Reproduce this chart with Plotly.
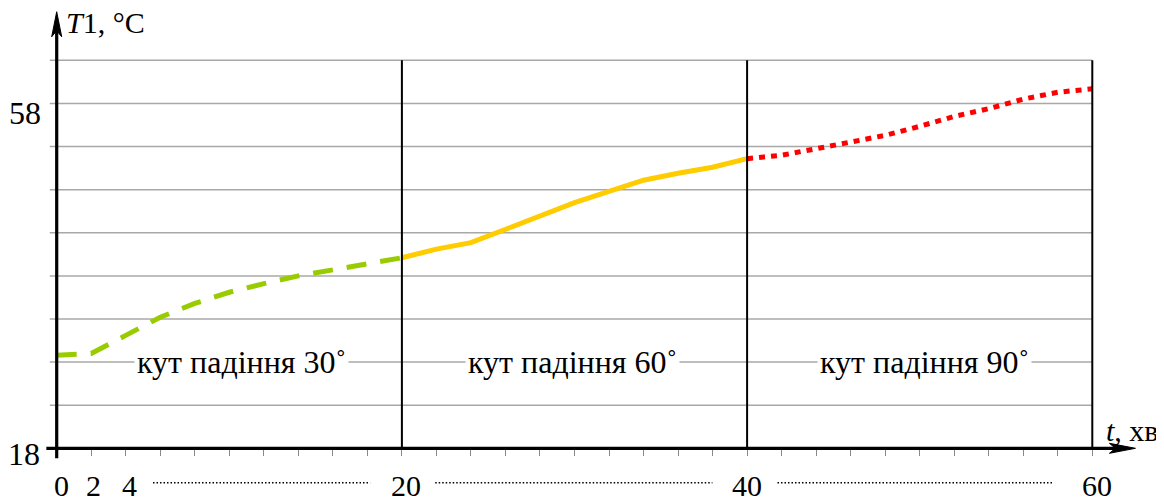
import plotly.graph_objects as go

# ---- data ----
t_30 = [0, 2, 4, 6, 8, 10, 12, 14, 16, 18, 20]
T_30 = [28.8, 29.0, 31.1, 33.2, 34.8, 36.1, 37.1, 38.0, 38.7, 39.4, 40.1]
t_60 = [20, 22, 24, 26, 28, 30, 32, 34, 36, 38, 40]
T_60 = [40.1, 41.1, 41.85, 43.4, 45.05, 46.5, 47.8, 49.1, 49.9, 50.6, 51.6]
t_90 = [40, 42, 44, 46, 48, 50, 52, 54, 56, 58, 60]
T_90 = [51.6, 52.0, 52.75, 53.55, 54.3, 55.35, 56.5, 57.4, 58.5, 59.3, 59.7]

grid_vals = [23, 28, 33, 38, 43, 48, 53, 58, 63]
x_label_vals = [0, 2, 4, 20, 40, 60]
x_minor_ticks = list(range(0, 61, 2))
section_lines = [20, 40, 60]
section_texts = ["кут падіння 30˚", "кут падіння 60˚", "кут падіння 90˚"]

FONT = "Liberation Serif, Times New Roman, serif"
FS = 32
FS_TICK = 30
FS_TITLE = 30

# page has an 8px body margin: figure is 1156x492 placed at (8,8)
W, H = 1156, 492
PX_PER_X = 1035.6 / 60.0
X0 = -48.7 / PX_PER_X
X1 = (W - 48.7) / PX_PER_X
PX_PER_Y = 500 / 58.0
Y1 = 18 + 440.3 / PX_PER_Y
Y0 = Y1 - H / PX_PER_Y

fig = go.Figure()
fig.add_trace(go.Scatter(x=t_30, y=T_30, mode="lines",
                         line=dict(color="#99CC00", width=5, dash="20px,14px")))
fig.add_trace(go.Scatter(x=t_60, y=T_60, mode="lines",
                         line=dict(color="#FFCC00", width=5)))
fig.add_trace(go.Scatter(x=t_90, y=T_90, mode="lines",
                         line=dict(color="#FF0000", width=5, dash="6px,6px")))

shapes = []
for g in grid_vals:
    shapes.append(dict(type="line", xref="x", yref="y", x0=-0.4, x1=60, y0=g, y1=g,
                       line=dict(color="#A8A8A8", width=1.5), layer="below"))
for s in section_lines:
    shapes.append(dict(type="line", xref="x", yref="y", x0=s, x1=s, y0=18, y1=63,
                       line=dict(color="black", width=2), layer="above"))
shapes.append(dict(type="line", xref="x", yref="y", x0=-0.6, x1=61.6, y0=18, y1=18,
                   line=dict(color="black", width=3.2)))
shapes.append(dict(type="line", xref="x", yref="y", x0=0, x1=0, y0=16.85, y1=67.0,
                   line=dict(color="black", width=3.2)))
shapes.append(dict(type="path", xref="x", yref="y", xsizemode="pixel", ysizemode="pixel",
                   xanchor=62.5, yanchor=18,
                   path="M 0 0 L -26 5 L -20 0 L -26 -5 Z",
                   fillcolor="black", line=dict(color="black", width=1)))
shapes.append(dict(type="path", xref="x", yref="y", xsizemode="pixel", ysizemode="pixel",
                   xanchor=0, yanchor=68.64,
                   path="M 0 0 L 5 -25 L 0 -19 L -5 -25 Z",
                   fillcolor="black", line=dict(color="black", width=1)))
for a, b in [(5.58, 18.16), (21.93, 37.99), (41.76, 57.76)]:
    shapes.append(dict(type="line", xref="x", yref="y", x0=a, x1=b, y0=14.0, y1=14.0,
                       line=dict(color="black", width=1.5, dash="1.5px,2px")))

ann = []
ann.append(dict(x=-0.78, y=58, xref="x", yref="y", text="58", showarrow=False,
                xanchor="right", yanchor="middle", yshift=-10,
                font=dict(family=FONT, size=FS, color="black")))
ann.append(dict(x=-0.85, y=18, xref="x", yref="y", text="18", showarrow=False,
                xanchor="right", yanchor="middle", yshift=-6,
                font=dict(family=FONT, size=FS, color="black")))
xsh = {0: 5, 2: 2, 4: 4, 20: 4, 40: 0, 60: 5}
for v in x_label_vals:
    ann.append(dict(x=v, y=18, xref="x", yref="y", text=str(v), showarrow=False,
                    xanchor="center", yanchor="middle", yshift=-37, xshift=xsh[v],
                    font=dict(family=FONT, size=FS_TICK, color="black")))
ann.append(dict(x=0.45, y=67.39, xref="x", yref="y", text="<i>T</i>1, °C", showarrow=False,
                xanchor="left", yanchor="middle",
                font=dict(family=FONT, size=FS_TITLE, color="black")))
ann.append(dict(x=60.7, y=20.12, xref="x", yref="y", text="<i>t</i>, хв", showarrow=False,
                xanchor="left", yanchor="middle",
                font=dict(family=FONT, size=FS_TITLE, color="black")))
for xc, txt in zip([10.7, 29.9, 50.3], section_texts):
    ann.append(dict(x=xc, y=28, xref="x", yref="y", text=txt, showarrow=False,
                    xanchor="center", yanchor="middle", bgcolor="white", borderpad=2,
                    font=dict(family=FONT, size=FS, color="black")))

fig.update_layout(
    width=W, height=H,
    margin=dict(l=0, r=0, t=0, b=0),
    paper_bgcolor="white", plot_bgcolor="white",
    showlegend=False,
    xaxis=dict(range=[X0, X1], showgrid=False, zeroline=False, showline=False,
               anchor="free", position=(18 - Y0) / (Y1 - Y0),
               tickvals=x_minor_ticks, ticks="outside", ticklen=7, tickwidth=1,
               tickcolor="#8A8A8A", showticklabels=False),
    yaxis=dict(range=[Y0, Y1], showgrid=False, zeroline=False, showline=False,
               showticklabels=False, ticks=""),
    shapes=shapes, annotations=ann,
)

fig.write_html("out.html")
